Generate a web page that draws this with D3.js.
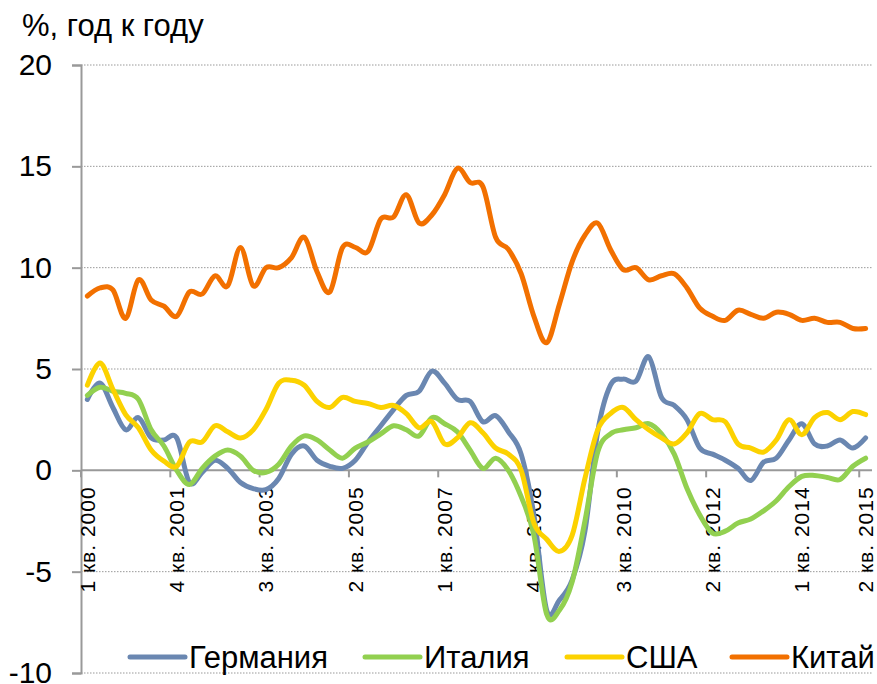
<!DOCTYPE html>
<html>
<head>
<meta charset="utf-8">
<script src="https://cdn.jsdelivr.net/npm/d3@7"></script>
<style>
  body { margin: 0; background: #fff; }
  svg { display: block; font-family: "Liberation Sans", Arial, sans-serif; }
</style>
</head>
<body>
<svg width="877" height="684"></svg>
<script>
// Quarter categories, 1 кв. 2000 .. 2 кв. 2015
const quarters = [];
for (let yr = 2000; yr <= 2015; yr++) {
  for (let q = 1; q <= 4; q++) {
    if (yr === 2015 && q > 2) break;
    quarters.push(q + " кв. " + yr);
  }
}

const tickLabels = ["1 кв. 2000", "4 кв. 2001", "3 кв. 2003", "2 кв. 2005", "1 кв. 2007",
  "4 кв. 2008", "3 кв. 2010", "2 кв. 2012", "1 кв. 2014", "2 кв. 2015"];

const yTicks = [-10, -5, 0, 5, 10, 15, 20];

const germany = [3.5, 4.3, 3.1, 2.0, 2.6, 1.6, 1.5, 1.6, -0.6, -0.1, 0.5, 0.1, -0.6, -0.9, -0.95, -0.4,
  0.8, 1.2, 0.5, 0.2, 0.1, 0.5, 1.4, 2.2, 3.0, 3.7, 3.9, 4.9, 4.3, 3.5, 3.4, 2.4,
  2.7, 1.9, 0.8, -2.2, -6.9, -6.4, -5.4, -3.0, 1.9, 4.2, 4.5, 4.4, 5.6, 3.6, 3.2, 2.5,
  1.1, 0.8, 0.5, 0.1, -0.5, 0.4, 0.6, 1.5, 2.3, 1.3, 1.2, 1.5, 1.1, 1.6];

const italy = [3.7, 4.1, 3.9, 3.8, 3.5, 2.0, 1.2, 0.0, -0.7, 0.1, 0.7, 1.0, 0.7, 0.0, -0.1, 0.3,
  1.2, 1.7, 1.5, 1.0, 0.6, 1.1, 1.4, 1.8, 2.2, 2.0, 1.7, 2.6, 2.3, 1.9, 1.0, 0.1,
  0.6, 0.0, -1.3, -3.2, -7.1, -6.9, -5.5, -2.5, 0.9, 1.8, 2.0, 2.1, 2.3, 1.8, 0.8, -0.9,
  -2.2, -3.1, -3.0, -2.6, -2.4, -2.0, -1.5, -0.8, -0.3, -0.25, -0.35, -0.45, 0.2, 0.6];

const usa = [4.2, 5.3, 4.0, 2.75, 2.1, 1.0, 0.45, 0.2, 1.4, 1.4, 2.2, 1.9, 1.6, 2.0, 3.0, 4.3,
  4.45, 4.2, 3.4, 3.1, 3.6, 3.4, 3.3, 3.1, 3.2, 2.8, 2.1, 2.4, 1.3, 1.6, 2.35, 1.85,
  1.1, 0.8, 0.0, -2.6, -3.4, -4.0, -3.2, -0.4, 2.0, 2.8, 3.1, 2.5, 2.0, 1.6, 1.3, 1.85,
  2.8, 2.5, 2.4, 1.3, 1.1, 0.9, 1.5, 2.5, 1.75, 2.6, 2.85, 2.5, 2.9, 2.75];

const china = [8.6, 9.0, 8.9, 7.5, 9.4, 8.4, 8.1, 7.6, 8.8, 8.7, 9.6, 9.1, 11.0, 9.1, 10.0, 10.0,
  10.5, 11.5, 9.8, 8.8, 11.0, 11.0, 10.8, 12.4, 12.5, 13.6, 12.2, 12.6, 13.6, 14.9, 14.2, 14.0,
  11.5, 10.9, 9.7, 7.6, 6.3, 8.2, 10.3, 11.6, 12.2, 10.9, 9.9, 10.0, 9.4, 9.6, 9.7, 9.0,
  8.0, 7.6, 7.4, 7.9, 7.7, 7.5, 7.8, 7.7, 7.4, 7.5, 7.3, 7.3, 7.0, 7.0];

const seriesNames = ["Германия", "Италия", "США", "Китай"];
const seriesColors = ["#6a87b1", "#92d050", "#fcd200", "#f27000"];

LineChart = function(_parentElement) {
  this.parentElement = _parentElement;
  this.initVis();
};

LineChart.prototype.initVis = function() {
  let vis = this;

  vis.svg = d3.select(vis.parentElement);
  vis.margin = { left: 81, right: 5, top: 65, bottom: 11 };
  vis.width = +vis.svg.attr("width") - vis.margin.left - vis.margin.right;
  vis.height = +vis.svg.attr("height") - vis.margin.top - vis.margin.bottom;

  vis.g = vis.svg
    .append("g")
    .attr("transform", "translate(" + vis.margin.left + "," + vis.margin.top + ")");

  vis.x = d3.scaleBand().domain(quarters).range([0, vis.width]);
  vis.y = d3.scaleLinear().domain([-10, 20]).range([vis.height, 0]);

  vis.series = [germany, italy, usa, china].map(function(vals, i) {
    return { name: seriesNames[i], color: seriesColors[i], values: vals };
  });

  // Axis title
  vis.svg
    .append("text")
    .attr("x", 22)
    .attr("y", 36)
    .attr("font-size", "31px")
    .attr("fill", "#000")
    .text("%, год к году");

  vis.renderVis();
};

LineChart.prototype.renderVis = function() {
  let vis = this;
  let bw = vis.x.bandwidth();

  // Dotted gridlines
  vis.g
    .selectAll(".grid")
    .data(yTicks.filter(d => d !== 0))
    .enter()
    .append("line")
    .attr("class", "grid")
    .attr("x1", 0)
    .attr("x2", vis.width)
    .attr("y1", d => vis.y(d))
    .attr("y2", d => vis.y(d))
    .attr("stroke", "#999")
    .attr("stroke-width", 1)
    .attr("stroke-dasharray", "1.5,1.5");

  // Y axis (plain hyphen for negatives, as in the source)
  let yAxis = d3
    .axisLeft(vis.y)
    .tickValues(yTicks)
    .tickFormat(d => String(d))
    .tickSize(9)
    .tickPadding(20);
  let yg = vis.g.append("g").call(yAxis);
  yg.select(".domain").attr("stroke", "#999").attr("stroke-width", 2);
  yg.selectAll(".tick line").attr("stroke", "#999").attr("stroke-width", 2);
  yg.selectAll(".tick text")
    .attr("font-size", "30px")
    .attr("font-family", "\"Liberation Sans\", Arial, sans-serif")
    .attr("fill", "#000");

  // Zero line (category axis)
  vis.g
    .append("line")
    .attr("x1", 0)
    .attr("x2", vis.width)
    .attr("y1", vis.y(0))
    .attr("y2", vis.y(0))
    .attr("stroke", "#999")
    .attr("stroke-width", 2);

  vis.g
    .selectAll(".xtick")
    .data(tickLabels)
    .enter()
    .append("line")
    .attr("class", "xtick")
    .attr("x1", d => vis.x(d))
    .attr("x2", d => vis.x(d))
    .attr("y1", vis.y(0))
    .attr("y2", vis.y(0) + 7)
    .attr("stroke", "#999")
    .attr("stroke-width", 2);

  vis.g
    .selectAll(".xlabel")
    .data(tickLabels)
    .enter()
    .append("text")
    .attr("class", "xlabel")
    .attr("transform", d => "translate(" + (vis.x(d) + bw / 2) + "," + (vis.y(0) + 16) + ") rotate(-90)")
    .attr("text-anchor", "end")
    .attr("dy", "0.35em")
    .attr("font-size", "21px")
    .attr("letter-spacing", "1px")
    .attr("fill", "#000")
    .text(d => d);

  // Lines
  let line = d3
    .line()
    .x((d, i) => vis.x(quarters[i]) + bw / 2)
    .y(d => vis.y(d))
    .curve(d3.curveCatmullRom.alpha(0));

  vis.g
    .selectAll(".series")
    .data(vis.series)
    .enter()
    .append("path")
    .attr("class", "series")
    .attr("fill", "none")
    .attr("stroke", d => d.color)
    .attr("stroke-width", 5)
    .attr("stroke-linejoin", "round")
    .attr("stroke-linecap", "round")
    .attr("d", d => line(d.values));

  // Legend
  let legendX = [130, 365, 567, 732];
  vis.legend = vis.svg.append("g").attr("class", "legend");
  vis.series.forEach(function(s, i) {
    let row = vis.legend
      .append("g")
      .attr("transform", "translate(" + legendX[i] + ",657)");
    row
      .append("line")
      .attr("x1", 0)
      .attr("x2", 55)
      .attr("stroke", s.color)
      .attr("stroke-width", 5)
      .attr("stroke-linecap", "round");
    row
      .append("text")
      .attr("x", 59)
      .attr("y", 11)
      .attr("font-size", "31px")
      .attr("fill", "#000")
      .text(s.name);
  });
};

new LineChart("svg");
</script>
</body>
</html>
